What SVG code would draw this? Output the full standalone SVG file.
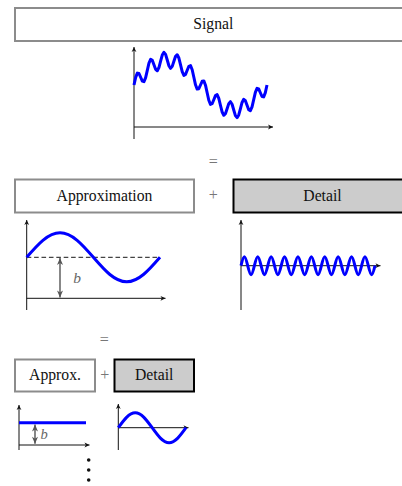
<svg xmlns="http://www.w3.org/2000/svg" width="402" height="486" viewBox="0 0 402 486">
<style>
.lbl{font-family:"Liberation Serif","Times New Roman",serif;font-size:15.7px;fill:#111;text-anchor:middle}
.op{font-family:"Liberation Serif","Times New Roman",serif;font-size:16px;fill:#777;text-anchor:middle}
.bv{font-family:"Liberation Serif","Times New Roman",serif;font-style:italic;fill:#666}
.gbox{fill:#fff;stroke:#8c8c8c;stroke-width:2}
.dbox{fill:#cccccc;stroke:#000;stroke-width:2}
.axis{fill:none;stroke:#111;stroke-width:1;marker-end:url(#ax)}
.wave{fill:none;stroke:#0000ff;stroke-width:3;stroke-linejoin:round;stroke-linecap:butt}
.barr{stroke:#555;stroke-width:1.4;marker-start:url(#st);marker-end:url(#st)}
</style>
<defs>
<marker id="ax" viewBox="-6 -3 7 6" refX="0" refY="0" markerWidth="7" markerHeight="6" markerUnits="userSpaceOnUse" orient="auto">
<path d="M0,0 L-5,-2.4 L-3.6,0 L-5,2.4 Z" fill="#111"/>
</marker>
<marker id="st" viewBox="-8 -4 9 8" refX="0" refY="0" markerWidth="9" markerHeight="8" markerUnits="userSpaceOnUse" orient="auto-start-reverse">
<path d="M0,0 L-7,-3 L-5,0 L-7,3 Z" fill="#555"/>
</marker>
</defs>

<g id="signal">
<rect class="gbox" x="15" y="8" width="397" height="33"/>
<text class="lbl" x="213.3" y="28.7">Signal</text>
</g>
<g id="signal-plot">
<line class="axis" x1="134" y1="139" x2="134" y2="47"/>
<line class="axis" x1="134" y1="127" x2="273" y2="127"/>
<polyline class="wave" points="134,85 135.66,77.38 137.33,73.09 138.99,73.5 140.65,77.27 142.31,81.09 143.98,81.65 145.64,77.6 147.3,70.3 148.96,63.1 150.63,59.32 152.29,60.33 153.95,64.77 155.61,69.34 157.28,70.72 158.94,67.56 160.6,61.22 162.26,55.03 163.93,52.31 165.59,54.42 167.25,60 168.91,65.74 170.58,68.31 172.24,66.35 173.9,61.22 175.56,56.24 177.23,54.72 178.89,58.02 180.55,64.77 182.21,71.65 183.88,75.32 185.54,74.42 187.2,70.3 188.86,66.28 190.53,65.65 192.19,69.77 193.85,77.27 195.51,84.82 197.18,89.09 198.84,88.7 200.5,85 202.16,81.3 203.83,80.91 205.49,85.18 207.15,92.73 208.81,100.23 210.48,104.35 212.14,103.72 213.8,99.7 215.46,95.58 217.13,94.68 218.79,98.35 220.45,105.23 222.11,111.98 223.78,115.28 225.44,113.76 227.1,108.78 228.76,103.65 230.43,101.69 232.09,104.26 233.75,110 235.41,115.58 237.08,117.69 238.74,114.97 240.4,108.78 242.06,102.44 243.73,99.28 245.39,100.66 247.05,105.23 248.71,109.67 250.38,110.68 252.04,106.9 253.7,99.7 255.36,92.4 257.03,88.35 258.69,88.91 260.35,92.73 262.01,96.5 263.68,96.91 265.34,92.62 267,85"/>
</g>

<g id="approximation">
<rect class="gbox" x="15" y="179.5" width="179" height="33"/>
<text class="lbl" x="104.5" y="200.5">Approximation</text>
</g>
<g id="detail">
<rect class="dbox" x="233.5" y="179.5" width="180" height="33"/>
<text class="lbl" x="322.5" y="200.5">Detail</text>
</g>
<g id="approximation-plot">
<line class="axis" x1="26.7" y1="310" x2="26.7" y2="220"/>
<line class="axis" x1="26.7" y1="298.3" x2="165.5" y2="298.3"/>
<line x1="26.7" y1="257.3" x2="160" y2="257.3" stroke="#444" stroke-width="1.3" stroke-dasharray="4.6 2.8"/>
<path class="wave" d="M26.7,257.3 c10.867,-12.551 21.265,-24.5 33.325,-24.5 s22.458,11.949 33.325,24.5 s21.265,24.5 33.325,24.5 s22.458,-11.949 33.325,-24.5"/>
<line class="barr" x1="60" y1="258" x2="60" y2="297.6"/>
<text class="bv" x="73.3" y="283.3" font-size="15.5">b</text>
</g>
<g id="detail-plot">
<line class="axis" x1="241" y1="310" x2="241" y2="220"/>
<line class="axis" x1="241" y1="265.7" x2="380.5" y2="265.7"/>
<path class="wave" d="M241,265.7 c1.092,-4.611 2.138,-9 3.35,-9 s2.258,4.389 3.35,9 s2.138,9 3.35,9 s2.258,-4.389 3.35,-9 s2.138,-9 3.35,-9 s2.258,4.389 3.35,9 s2.138,9 3.35,9 s2.258,-4.389 3.35,-9 s2.138,-9 3.35,-9 s2.258,4.389 3.35,9 s2.138,9 3.35,9 s2.258,-4.389 3.35,-9 s2.138,-9 3.35,-9 s2.258,4.389 3.35,9 s2.138,9 3.35,9 s2.258,-4.389 3.35,-9 s2.138,-9 3.35,-9 s2.258,4.389 3.35,9 s2.138,9 3.35,9 s2.258,-4.389 3.35,-9 s2.138,-9 3.35,-9 s2.258,4.389 3.35,9 s2.138,9 3.35,9 s2.258,-4.389 3.35,-9 s2.138,-9 3.35,-9 s2.258,4.389 3.35,9 s2.138,9 3.35,9 s2.258,-4.389 3.35,-9 s2.138,-9 3.35,-9 s2.258,4.389 3.35,9 s2.138,9 3.35,9 s2.258,-4.389 3.35,-9 s2.138,-9 3.35,-9 s2.258,4.389 3.35,9 s2.138,9 3.35,9 s2.258,-4.389 3.35,-9 s2.138,-9 3.35,-9 s2.258,4.389 3.35,9 s2.138,9 3.35,9 s2.258,-4.389 3.35,-9"/>
</g>

<g id="approx2">
<rect class="gbox" x="15" y="359.5" width="80" height="32"/>
<text class="lbl" x="55" y="380">Approx.</text>
</g>
<g id="detail2">
<rect class="dbox" x="114.5" y="359.5" width="79.5" height="32"/>
<text class="lbl" x="154.2" y="380">Detail</text>
</g>
<g id="approx2-plot">
<line class="axis" x1="19" y1="450" x2="19" y2="405"/>
<line class="axis" x1="19" y1="445" x2="89.5" y2="445"/>
<line x1="19" y1="422.7" x2="86" y2="422.7" stroke="#0000ff" stroke-width="3"/>
<line class="barr" x1="35" y1="424.5" x2="35" y2="443.8"/>
<text class="bv" x="40.5" y="439.3" font-size="14.5">b</text>
</g>
<g id="detail2-plot">
<line class="axis" x1="118.3" y1="450" x2="118.3" y2="404"/>
<line class="axis" x1="118.3" y1="427.7" x2="188.5" y2="427.7"/>
<path class="wave" d="M118.3,427.7 c5.519,-7.685 10.8,-15 16.925,-15 s11.406,7.315 16.925,15 s10.8,15 16.925,15 s11.406,-7.315 16.925,-15"/>
</g>

<g id="connectors">
<text class="op" x="213.3" y="166.5">=</text>
<text class="op" x="213.3" y="200">+</text>
<text class="op" x="104.3" y="344.7">=</text>
<text class="op" x="104.7" y="380">+</text>
<g fill="#111">
<circle cx="88.7" cy="460" r="1.8"/>
<circle cx="88.7" cy="470" r="1.8"/>
<circle cx="88.7" cy="480" r="1.8"/>
</g>
</g>
</svg>
